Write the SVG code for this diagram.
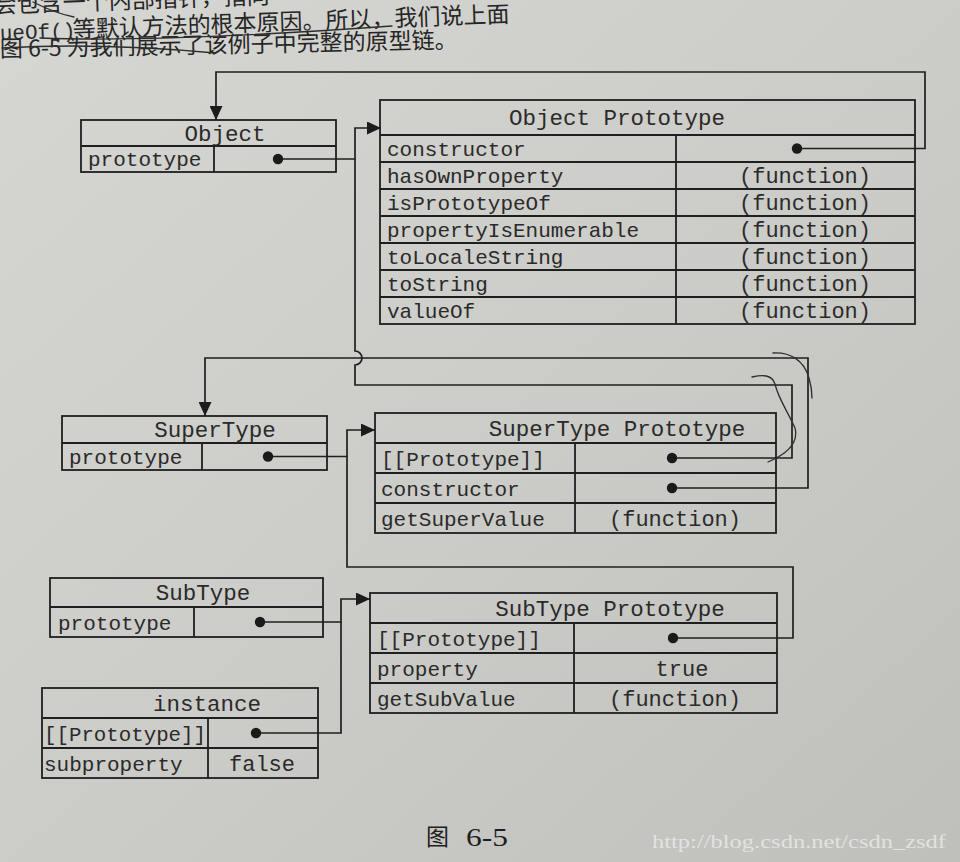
<svg xmlns="http://www.w3.org/2000/svg" width="960" height="862" viewBox="0 0 960 862">
  <defs>
    <linearGradient id="paper" x1="0" y1="0" x2="1" y2="1">
      <stop offset="0" stop-color="#d6d6d2"/>
      <stop offset="0.55" stop-color="#cbcbc7"/>
      <stop offset="1" stop-color="#bfbfbb"/>
    </linearGradient>
    <marker id="arrow" markerUnits="userSpaceOnUse" markerWidth="15" markerHeight="13" refX="14" refY="6.5" orient="auto">
      <path d="M0,0 L14,6.5 L0,13 Z" fill="#1c1c1c"/>
    </marker>
    <marker id="dot" markerUnits="userSpaceOnUse" markerWidth="12" markerHeight="12" refX="6" refY="6" orient="auto">
      <circle cx="6" cy="6" r="5.2" fill="#1a1a1a"/>
    </marker>
    <style>
      .box { fill: none; stroke: #1f1f1f; stroke-width: 1.8; }
      .wire { fill: none; stroke: #1f1f1f; stroke-width: 1.7; }
      .link { marker-start: url(#dot); marker-end: url(#arrow); }
      .t { font-family: "Liberation Mono", "DejaVu Sans Mono", monospace; font-size: 21px; fill: #2a2a2a; }
      .h { font-size: 22.5px; }
      .v { font-size: 22px; }
      .c { text-anchor: middle; }
      .zh { font-family: "Noto Sans CJK SC", "Noto Sans CJK JP", sans-serif; font-size: 23px; fill: #262626; }
      .ink { fill: none; stroke: #2e2e2e; stroke-width: 1.3; stroke-linecap: round; }
    </style>
  </defs>

  <!-- paper -->
  <rect x="0" y="0" width="960" height="862" fill="url(#paper)"/>

  <!-- running text above the figure (top line runs off the page edge) -->
  <g id="page-text">
    <text class="zh" x="-6" y="13" font-size="24" transform="rotate(-2 0 13)">会包含一个内部指针，指向</text>
    <g transform="rotate(-2 0 40)">
      <text class="t" x="0" y="40" font-size="19.5">ueOf()</text>
      <text class="zh" x="73" y="40" font-size="24">等默认方法的根本原因。所以，我们说上面</text>
    </g>
    <text class="zh" x="0" y="57" transform="rotate(-1.1 0 57)">图 6-5 为我们展示了该例子中完整的原型链。</text>
  </g>

  <!-- pointer connectors -->
  <g id="connectors">
    <!-- Object.prototype -> Object Prototype -->
    <path class="wire link" d="M278 159 H355 V128 H381"/>
    <!-- Object Prototype.constructor -> Object -->
    <path class="wire link" d="M797 148.5 H925 V72 H216 V120"/>
    <!-- SuperType Prototype.[[Prototype]] -> Object Prototype (hops over the constructor line) -->
    <path class="wire" d="M672 458 H792 V385 H355 V365 A7 7 0 0 0 355 351 V159" marker-start="url(#dot)"/>
    <!-- SuperType Prototype.constructor -> SuperType -->
    <path class="wire link" d="M672 488 H808 V358 H205 V416"/>
    <!-- SuperType.prototype -> SuperType Prototype -->
    <path class="wire link" d="M268 456.5 H347 V430 H375"/>
    <!-- SubType Prototype.[[Prototype]] -> SuperType Prototype -->
    <path class="wire" d="M673 638 H793 V567 H347 V456.5" marker-start="url(#dot)"/>
    <!-- SubType.prototype -> SubType Prototype -->
    <path class="wire link" d="M260 622 H341 V599 H370"/>
    <!-- instance.[[Prototype]] -> SubType Prototype -->
    <path class="wire" d="M256 733 H341 V622" marker-start="url(#dot)"/>
  </g>

  <g id="object">
    <rect class="box" x="81" y="120" width="255" height="52"/>
    <path class="box" d="M81 146 H336 M214 146 V172"/>
    <text class="t h c" x="225" y="141">Object</text>
    <text class="t" x="88" y="166">prototype</text>
  </g>

  <g id="object-prototype">
    <rect class="box" x="380" y="100" width="535" height="224"/>
    <path class="box" d="M380 135 H915 M380 162 H915 M380 189 H915 M380 216 H915 M380 243 H915 M380 270 H915 M380 297 H915 M676 135 V324"/>
    <text class="t h c" x="617" y="125">Object Prototype</text>
    <text class="t" x="387" y="156">constructor</text>
    <text class="t" x="387" y="183">hasOwnProperty</text>
    <text class="t" x="387" y="210">isPrototypeOf</text>
    <text class="t" x="387" y="237">propertyIsEnumerable</text>
    <text class="t" x="387" y="264">toLocaleString</text>
    <text class="t" x="387" y="291">toString</text>
    <text class="t" x="387" y="318">valueOf</text>
    <text class="t v c" x="805" y="183">(function)</text>
    <text class="t v c" x="805" y="210">(function)</text>
    <text class="t v c" x="805" y="237">(function)</text>
    <text class="t v c" x="805" y="264">(function)</text>
    <text class="t v c" x="805" y="291">(function)</text>
    <text class="t v c" x="805" y="318">(function)</text>
  </g>

  <g id="supertype">
    <rect class="box" x="62" y="416" width="265" height="54"/>
    <path class="box" d="M62 443 H327 M202 443 V470"/>
    <text class="t h c" x="215" y="437">SuperType</text>
    <text class="t" x="69" y="464">prototype</text>
  </g>

  <g id="supertype-prototype">
    <rect class="box" x="375" y="413" width="401" height="120"/>
    <path class="box" d="M375 443 H776 M375 473 H776 M375 503 H776 M575 443 V533"/>
    <text class="t h c" x="617" y="436">SuperType Prototype</text>
    <text class="t" x="381" y="466">[[Prototype]]</text>
    <text class="t" x="381" y="496">constructor</text>
    <text class="t" x="381" y="526">getSuperValue</text>
    <text class="t v c" x="675" y="526">(function)</text>
  </g>

  <g id="subtype">
    <rect class="box" x="50" y="578" width="273" height="59"/>
    <path class="box" d="M50 607 H323 M194 607 V637"/>
    <text class="t h c" x="203" y="600">SubType</text>
    <text class="t" x="58" y="630">prototype</text>
  </g>

  <g id="instance">
    <rect class="box" x="42" y="688" width="276" height="90"/>
    <path class="box" d="M42 718 H318 M42 748 H318 M208 718 V778"/>
    <text class="t h c" x="207" y="711">instance</text>
    <text class="t" x="44" y="741" textLength="162" lengthAdjust="spacingAndGlyphs">[[Prototype]]</text>
    <text class="t" x="44" y="771">subproperty</text>
    <text class="t v c" x="262" y="771">false</text>
  </g>

  <g id="subtype-prototype">
    <rect class="box" x="370" y="593" width="407" height="120"/>
    <path class="box" d="M370 623 H777 M370 653 H777 M370 683 H777 M574 623 V713"/>
    <text class="t h c" x="610" y="616">SubType Prototype</text>
    <text class="t" x="377" y="646">[[Prototype]]</text>
    <text class="t" x="377" y="676">property</text>
    <text class="t" x="377" y="706">getSubValue</text>
    <text class="t v c" x="682" y="676">true</text>
    <text class="t v c" x="675" y="706">(function)</text>
  </g>

  <!-- figure caption and site stamp -->
  <g id="caption">
    <text x="426" y="845" font-family="Noto Sans CJK SC, sans-serif" font-size="23" fill="#1e1e1e">图</text>
    <text x="466" y="846" font-family="Liberation Serif, serif" font-size="26" fill="#1e1e1e" textLength="42" lengthAdjust="spacingAndGlyphs">6-5</text>
    <text x="652" y="848" font-family="Liberation Serif, serif" font-size="19" fill="#f2f2f2" fill-opacity="0.7" textLength="294" lengthAdjust="spacingAndGlyphs">http://blog.csdn.net/csdn_zsdf</text>
  </g>

  <!-- pen strokes on the page -->
  <g id="pen-marks">
    <path class="ink" d="M33 2 C45 8, 58 14, 74 17"/>
    <path class="ink" d="M40 38 C140 42, 280 34, 392 26"/>
    <path class="ink" d="M2 48 C70 44, 150 47, 215 53"/>
    <path class="ink" d="M773 353 C790 352, 804 360, 809 378 C812 388, 812 395, 812 398"/>
    <path class="ink" d="M752 377 C762 375, 772 374, 775 384 C778 398, 788 412, 795 428 C798 440, 792 452, 768 462"/>
  </g>
</svg>
